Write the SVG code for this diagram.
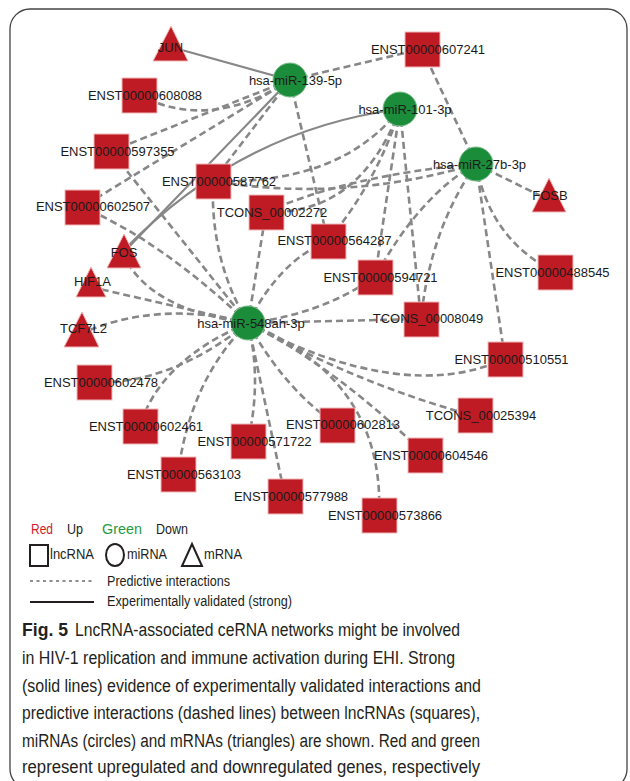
<svg xmlns="http://www.w3.org/2000/svg" width="630" height="781" viewBox="0 0 630 781">
<style>
.d{fill:none;stroke:#878787;stroke-width:2.6;stroke-dasharray:7 4}
.s{fill:none;stroke:#878787;stroke-width:2.2}
.sq{fill:#be1b24;stroke:#f2b8b8;stroke-width:1}
.tr{fill:#be1b24;stroke:#f2b8b8;stroke-width:1}
.ci{fill:#1b8c3a;stroke:#7fc08f;stroke-width:1}
.lb{font-family:"Liberation Sans",Arial,sans-serif;font-size:13px;fill:#1a1a1a;text-anchor:middle}
.lg{font-family:"Liberation Sans",Arial,sans-serif;font-size:14px;fill:#231f20}
.cap{font-family:"Liberation Sans",Arial,sans-serif;font-size:18px;fill:#231f20}
</style>
<rect x="10" y="9" width="617" height="780" rx="20" fill="#ffffff" stroke="#444444" stroke-width="1.3"/>
<g id="connectors">
<path class="s" d="M171,47 L290,80"/>
<path class="s" d="M124,252 L290,80"/>
<path class="s" d="M124,250 Q240,130 400,109"/>
<path class="d" d="M290,80 L422,49"/>
<path class="d" d="M290,80 Q210,132 139,95"/>
<path class="d" d="M290,80 L111,151"/>
<path class="d" d="M290,80 L82,207"/>
<path class="d" d="M290,80 L213,181"/>
<path class="d" d="M290,80 L328,241"/>
<path class="d" d="M400,109 L375,277"/>
<path class="d" d="M400,109 L421,319"/>
<path class="d" d="M400,109 Q378,180 328,241"/>
<path class="d" d="M400,109 Q360,215 266,212"/>
<path class="d" d="M400,109 Q340,185 213,181"/>
<path class="d" d="M476,164 L422,49"/>
<path class="d" d="M476,164 L549,200"/>
<path class="d" d="M476,164 Q490,240 555,272"/>
<path class="d" d="M476,164 L505,359"/>
<path class="d" d="M476,164 Q430,230 421,319"/>
<path class="d" d="M476,164 Q420,195 375,277"/>
<path class="d" d="M476,164 Q344,203 213,181"/>
<path class="d" d="M476,164 Q350,175 266,212"/>
<path class="d" d="M248,323 L111,151"/>
<path class="d" d="M248,323 Q160,240 82,207"/>
<path class="d" d="M248,323 Q210,260 213,181"/>
<path class="d" d="M248,323 L266,212"/>
<path class="d" d="M248,323 Q280,260 328,241"/>
<path class="d" d="M248,323 Q150,310 124,256"/>
<path class="d" d="M248,323 L91,287"/>
<path class="d" d="M248,323 Q160,300 82,333"/>
<path class="d" d="M248,323 Q170,385 94,382"/>
<path class="d" d="M248,323 Q160,360 140,426"/>
<path class="d" d="M248,323 Q190,380 178,474"/>
<path class="d" d="M248,323 Q262,380 248,441"/>
<path class="d" d="M248,323 L285,496"/>
<path class="d" d="M248,323 Q285,390 337,425"/>
<path class="d" d="M248,323 Q385,380 379,515"/>
<path class="d" d="M248,323 Q340,370 425,455"/>
<path class="d" d="M248,323 Q360,385 475,416"/>
<path class="d" d="M248,323 Q403,405 505,359"/>
<path class="d" d="M248,323 L421,319"/>
<path class="d" d="M248,323 Q320,315 375,277"/>
</g>
<g id="JUN"><polygon class="tr" points="171,26 188,61 153,61"/><text class="lb" x="170.5" y="51.5">JUN</text></g>
<g id="FOSB"><polygon class="tr" points="549,178 566,212 532,212"/><text class="lb" x="550" y="199.5">FOSB</text></g>
<g id="FOS"><polygon class="tr" points="124,234 141,268 107,268"/><text class="lb" x="124" y="256.5">FOS</text></g>
<g id="HIF1A"><polygon class="tr" points="91,267 106,297 76,297"/><text class="lb" x="92.5" y="285.5">HIF1A</text></g>
<g id="TCF7L2"><polygon class="tr" points="82,312 99,347 64,347"/><text class="lb" x="83.5" y="332.5">TCF7L2</text></g>
<g id="ENST00000607241"><rect class="sq" x="405" y="32" width="35" height="35"/><text class="lb" x="428" y="53.5">ENST00000607241</text></g>
<g id="ENST00000608088"><rect class="sq" x="122" y="78" width="35" height="35"/><text class="lb" x="145" y="99.5">ENST00000608088</text></g>
<g id="ENST00000597355"><rect class="sq" x="94" y="134" width="35" height="35"/><text class="lb" x="117.5" y="155.5">ENST00000597355</text></g>
<g id="ENST00000587762"><rect class="sq" x="196" y="164" width="35" height="35"/><text class="lb" x="219" y="185.5">ENST00000587762</text></g>
<g id="ENST00000602507"><rect class="sq" x="65" y="190" width="35" height="35"/><text class="lb" x="93" y="211">ENST00000602507</text></g>
<g id="TCONS_00002272"><rect class="sq" x="249" y="195" width="35" height="35"/><text class="lb" x="272" y="216.5">TCONS_00002272</text></g>
<g id="ENST00000564287"><rect class="sq" x="311" y="224" width="35" height="35"/><text class="lb" x="334.5" y="244.5">ENST00000564287</text></g>
<g id="ENST00000594721"><rect class="sq" x="358" y="260" width="35" height="35"/><text class="lb" x="380.5" y="281.5">ENST00000594721</text></g>
<g id="ENST00000488545"><rect class="sq" x="538" y="255" width="35" height="35"/><text class="lb" x="552.5" y="276.5">ENST00000488545</text></g>
<g id="TCONS_00008049"><rect class="sq" x="404" y="302" width="35" height="35"/><text class="lb" x="428" y="322.5">TCONS_00008049</text></g>
<g id="ENST00000510551"><rect class="sq" x="488" y="342" width="35" height="35"/><text class="lb" x="511.5" y="363.5">ENST00000510551</text></g>
<g id="ENST00000602478"><rect class="sq" x="77" y="365" width="35" height="35"/><text class="lb" x="101" y="386.5">ENST00000602478</text></g>
<g id="ENST00000602461"><rect class="sq" x="123" y="409" width="35" height="35"/><text class="lb" x="146" y="430.5">ENST00000602461</text></g>
<g id="TCONS_00025394"><rect class="sq" x="458" y="398" width="35" height="35"/><text class="lb" x="481" y="419.5">TCONS_00025394</text></g>
<g id="ENST00000571722"><rect class="sq" x="231" y="424" width="35" height="35"/><text class="lb" x="254.5" y="445.5">ENST00000571722</text></g>
<g id="ENST00000602813"><rect class="sq" x="320" y="408" width="35" height="35"/><text class="lb" x="343" y="428.5">ENST00000602813</text></g>
<g id="ENST00000604546"><rect class="sq" x="408" y="438" width="35" height="35"/><text class="lb" x="431" y="459.5">ENST00000604546</text></g>
<g id="ENST00000563103"><rect class="sq" x="161" y="457" width="35" height="35"/><text class="lb" x="184" y="478.5">ENST00000563103</text></g>
<g id="ENST00000577988"><rect class="sq" x="268" y="479" width="35" height="35"/><text class="lb" x="291" y="500.5">ENST00000577988</text></g>
<g id="ENST00000573866"><rect class="sq" x="362" y="498" width="35" height="35"/><text class="lb" x="385" y="519.5">ENST00000573866</text></g>
<g id="hsa-miR-139-5p"><circle class="ci" cx="290" cy="80" r="17"/><text class="lb" x="295.5" y="85">hsa-miR-139-5p</text></g>
<g id="hsa-miR-101-3p"><circle class="ci" cx="400" cy="109" r="17"/><text class="lb" x="405" y="113.5">hsa-miR-101-3p</text></g>
<g id="hsa-miR-27b-3p"><circle class="ci" cx="476" cy="164" r="17"/><text class="lb" x="479.5" y="168.5">hsa-miR-27b-3p</text></g>
<g id="hsa-miR-548ah-3p"><circle class="ci" cx="248" cy="323" r="17"/><text class="lb" x="251" y="327.5">hsa-miR-548ah-3p</text></g>
<g id="legend">
<text class="lg" x="31" y="534" textLength="22" lengthAdjust="spacingAndGlyphs" style="fill:#d7191f">Red</text>
<text class="lg" x="67" y="534" textLength="16" lengthAdjust="spacingAndGlyphs">Up</text>
<text class="lg" x="102" y="534" textLength="40" lengthAdjust="spacingAndGlyphs" style="fill:#1f9a3f">Green</text>
<text class="lg" x="156" y="534" textLength="32" lengthAdjust="spacingAndGlyphs">Down</text>
<rect x="30" y="545" width="18" height="21" fill="none" stroke="#231f20" stroke-width="2"/>
<text class="lg" x="50" y="559" textLength="44" lengthAdjust="spacingAndGlyphs">lncRNA</text>
<ellipse cx="115" cy="555" rx="9" ry="11" fill="none" stroke="#231f20" stroke-width="2"/>
<text class="lg" x="127" y="559" textLength="40" lengthAdjust="spacingAndGlyphs">miRNA</text>
<polygon points="192,544 202,566 182,566" fill="none" stroke="#231f20" stroke-width="2"/>
<text class="lg" x="204" y="559" textLength="38" lengthAdjust="spacingAndGlyphs">mRNA</text>
<line x1="30" y1="581" x2="94" y2="581" stroke="#231f20" stroke-width="1.2" stroke-dasharray="3 3.5"/>
<text class="lg" x="107" y="586" textLength="123" lengthAdjust="spacingAndGlyphs">Predictive interactions</text>
<line x1="30" y1="602" x2="94" y2="602" stroke="#231f20" stroke-width="2"/>
<text class="lg" x="107" y="606" textLength="185" lengthAdjust="spacingAndGlyphs">Experimentally validated (strong)</text>
</g>
<g id="caption">
<text class="cap" x="22" y="636" textLength="46" lengthAdjust="spacingAndGlyphs" style="font-weight:bold">Fig. 5</text>
<text class="cap" x="75" y="636" textLength="385" lengthAdjust="spacingAndGlyphs">LncRNA-associated ceRNA networks might be involved</text>
<text class="cap" x="22" y="664" textLength="433" lengthAdjust="spacingAndGlyphs">in HIV-1 replication and immune activation during EHI. Strong</text>
<text class="cap" x="22" y="691.5" textLength="459" lengthAdjust="spacingAndGlyphs">(solid lines) evidence of experimentally validated interactions and</text>
<text class="cap" x="22" y="719" textLength="458" lengthAdjust="spacingAndGlyphs">predictive interactions (dashed lines) between lncRNAs (squares),</text>
<text class="cap" x="22" y="746.5" textLength="458" lengthAdjust="spacingAndGlyphs">miRNAs (circles) and mRNAs (triangles) are shown. Red and green</text>
<text class="cap" x="22" y="773" textLength="458" lengthAdjust="spacingAndGlyphs">represent upregulated and downregulated genes, respectively</text>
</g>
</svg>
